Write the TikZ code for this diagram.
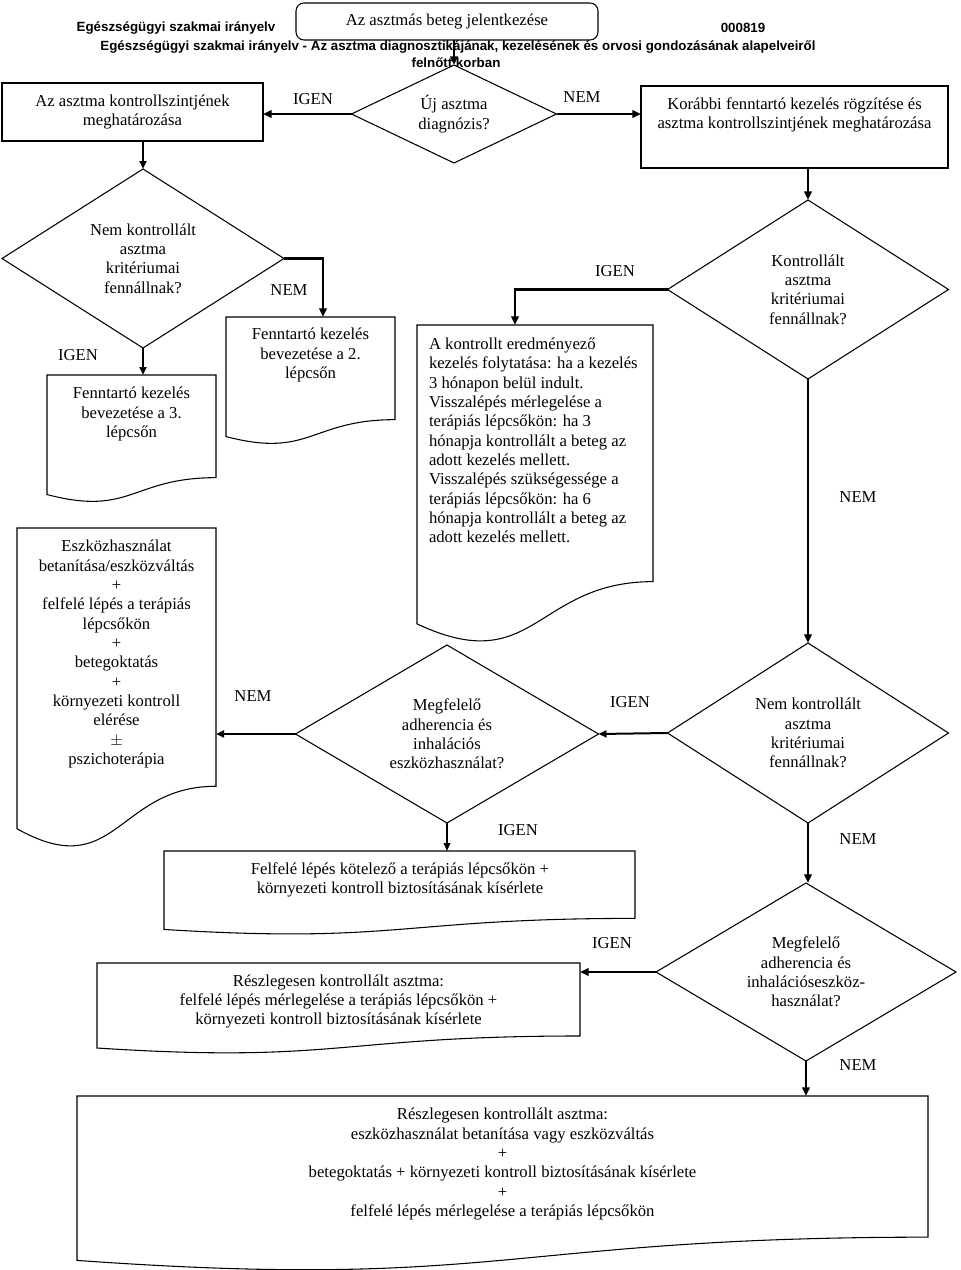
\documentclass[tikz,border=0pt]{standalone}
\usepackage{fontspec}
\setmainfont{Liberation Serif}
\newfontfamily\hdrfont{Liberation Sans}
\usetikzlibrary{shapes.geometric,arrows.meta,calc}

\newcommand\docpath[1]{%
  \draw[shapeline] (#1.north west) -- (#1.north east)
    -- ($(#1.north east)!0.802!(#1.south east)$)
    .. controls ($(#1.north)!0.802!(#1.south)$) and ($(#1.north)!1.107!(#1.south)$)
    .. ($(#1.north west)!0.934!(#1.south west)$) -- cycle;}

\tikzset{
  basefont/.style={font=\fontsize{12.5}{14.5}\selectfont, inner sep=0pt, outer sep=0pt},
  shapeline/.style={draw=black, line width=0.8pt},
  hdr/.style={font=\hdrfont\bfseries\fontsize{10}{12}\selectfont, inner sep=0pt},
  dia/.style={shape=diamond, shapeline, basefont, align=center},
  docnode/.style={basefont, draw=none, anchor=north west},
  rbox/.style={shapeline, basefont, align=center},
  txt/.style={basefont, align=center},
  lbl/.style={basefont},
  narr/.style={-{Triangle[length=6pt,width=5pt]}, line width=1.1pt},
  marr/.style={-{Triangle[length=6pt,width=5.2pt]}, line width=1.5pt},
  tarr/.style={-{Triangle[length=6.5pt,width=5.6pt]}, line width=2.2pt},
}

\begin{document}
\begin{tikzpicture}[x=0.75pt,y=-0.75pt]
\useasboundingbox (0,0) rectangle (960,1270);
\fill[white] (0,0) rectangle (960,1270);

% header texts
\node[hdr] (h1) at (176,28) {Egészségügyi szakmai irányelv};
\node[hdr] (h2) at (743,28) {000819};
\node[hdr] (h3) at (458,47) {Egészségügyi szakmai irányelv - Az asztma diagnosztikájának, kezelésének és orvosi gondozásának alapelveiről};
\node[hdr] (h4) at (456,63) {felnőtt korban};

% start box
\node[rbox, rounded corners=6pt, minimum width=302*0.75pt, minimum height=37*0.75pt] (start) at (447,21.5) {Az asztmás beteg jelentkezése};

% decision: new diagnosis
\node[dia, minimum width=205*0.75pt, minimum height=98*0.75pt, aspect=2.09] (uj) at (454,114) {Új asztma\\diagnózis?};

% left box
\node[rbox, minimum width=261*0.75pt, minimum height=58*0.75pt] (boxa) at (132.5,112) {Az asztma kontrollszintjének\\meghatározása};

% right box
\node[shapeline, basefont, minimum width=307*0.75pt, minimum height=82*0.75pt] (kor) at (794.5,127) {};
\node[txt] (kort) at (794.5,115) {Korábbi fenntartó kezelés rögzítése és\\asztma kontrollszintjének meghatározása};

% diamonds
\node[dia, minimum width=282*0.75pt, minimum height=179*0.75pt, aspect=1.58] (d2) at (143,258.5) {Nem kontrollált\\asztma\\kritériumai\\fennállnak?};
\node[dia, minimum width=281*0.75pt, minimum height=179*0.75pt, aspect=1.57] (d3) at (808,289.5) {Kontrollált\\asztma\\kritériumai\\fennállnak?};
\node[dia, minimum width=303*0.75pt, minimum height=178*0.75pt, aspect=1.7] (d4) at (447,734) {Megfelelő\\adherencia és\\inhalációs\\eszközhasználat?};
\node[dia, minimum width=281*0.75pt, minimum height=180*0.75pt, aspect=1.56] (d5) at (808,733) {Nem kontrollált\\asztma\\kritériumai\\fennállnak?};
\node[dia, minimum width=300*0.75pt, minimum height=178*0.75pt, aspect=1.69] (d6) at (806,972) {Megfelelő\\adherencia és\\inhalációseszköz-\\használat?};

% document boxes
\node[docnode, minimum width=169*0.75pt, minimum height=128*0.75pt] (b2) at (226,317) {};
\node[txt] (b2t) at (310.5,355) {Fenntartó kezelés\\bevezetése a 2.\\lépcsőn};

\node[docnode, minimum width=169*0.75pt, minimum height=128*0.75pt] (b3) at (47,375) {};
\node[txt] (b3t) at (131.5,414) {Fenntartó kezelés\\bevezetése a 3.\\lépcsőn};

\node[docnode, minimum width=236*0.75pt, minimum height=320*0.75pt] (b4) at (417,325) {};
\node[basefont, align=left, anchor=west] (b4t) at (429,440.5) {A kontrollt eredményező\\kezelés folytatása: ha a kezelés\\3 hónapon belül indult.\\Visszalépés mérlegelése a\\terápiás lépcsőkön: ha 3\\hónapja kontrollált a beteg az\\adott kezelés mellett.\\Visszalépés szükségessége a\\terápiás lépcsőkön: ha 6\\hónapja kontrollált a beteg az\\adott kezelés mellett.};

\node[docnode, minimum width=199*0.75pt, minimum height=322*0.75pt] (b5) at (17,528) {};
\node[txt] (b5t) at (116.5,654) {Eszközhasználat\\betanítása/eszközváltás\\+\\felfelé lépés a terápiás\\lépcsőkön\\+\\betegoktatás\\+\\környezeti kontroll\\elérése\\$\pm$\\pszichoterápia};

\node[docnode, minimum width=471*0.75pt, minimum height=84*0.75pt] (b6) at (164,851) {};
\node[txt] (b6t) at (400,880) {Felfelé lépés kötelező a terápiás lépcsőkön +\\környezeti kontroll biztosításának kísérlete};

\node[docnode, minimum width=483*0.75pt, minimum height=91*0.75pt] (b7) at (97,963) {};
\node[txt] (b7t) at (338.5,1001.5) {Részlegesen kontrollált asztma:\\felfelé lépés mérlegelése a terápiás lépcsőkön +\\környezeti kontroll biztosításának kísérlete};

\node[docnode, minimum width=851*0.75pt, minimum height=176*0.75pt] (b8) at (77,1096) {};
\node[txt] (b8t) at (502.5,1164) {Részlegesen kontrollált asztma:\\eszközhasználat betanítása vagy eszközváltás\\+\\betegoktatás + környezeti kontroll biztosításának kísérlete\\+\\felfelé lépés mérlegelése a terápiás lépcsőkön};

\docpath{b2}
\docpath{b3}
\docpath{b4}
\docpath{b5}
\docpath{b6}
\docpath{b7}
\docpath{b8}

% connectors
\draw[tarr] (start.south -| uj.north) -- (uj.north);
\draw[tarr] (uj.west) -- (uj.west -| boxa.east);
\draw[tarr] (uj.east) -- (uj.east -| kor.west);
\draw[marr] (boxa.south -| d2.north) -- (d2.north);
\draw[tarr] (kor.south -| d3.north) -- (d3.north);
\draw[tarr] (d2.east) -| ($(b2.north)+(12.5,0)$);
\draw[marr] (d2.south) -- (d2.south |- b3.north);
\draw[tarr] (d3.west) -| ($(b4.north)+(-20,0)$);
\draw[tarr] (d3.south) -- (d5.north);
\draw[marr] (d5.west) -- (d4.east);
\draw[marr] (d4.west) -- (d4.west -| b5.east);
\draw[narr] (d4.south) -- (d4.south |- b6.north);
\draw[tarr] (d5.south) -- (d5.south |- d6.north);
\draw[tarr] (d6.west) -- (d6.west -| b7.east);
\draw[tarr] (d6.south) -- (d6.south |- b8.north);

% labels
\node[lbl] (l1) at (313,99) {IGEN};
\node[lbl] (l2) at (582,97) {NEM};
\node[lbl] (l3) at (289,290) {NEM};
\node[lbl] (l4) at (78,355) {IGEN};
\node[lbl] (l5) at (615,271) {IGEN};
\node[lbl] (l6) at (858,497) {NEM};
\node[lbl] (l7) at (630,702) {IGEN};
\node[lbl] (l8) at (253,696) {NEM};
\node[lbl] (l9) at (518,830) {IGEN};
\node[lbl] (l10) at (858,839) {NEM};
\node[lbl] (l11) at (612,943) {IGEN};
\node[lbl] (l12) at (858,1065) {NEM};
\end{tikzpicture}
\end{document}
